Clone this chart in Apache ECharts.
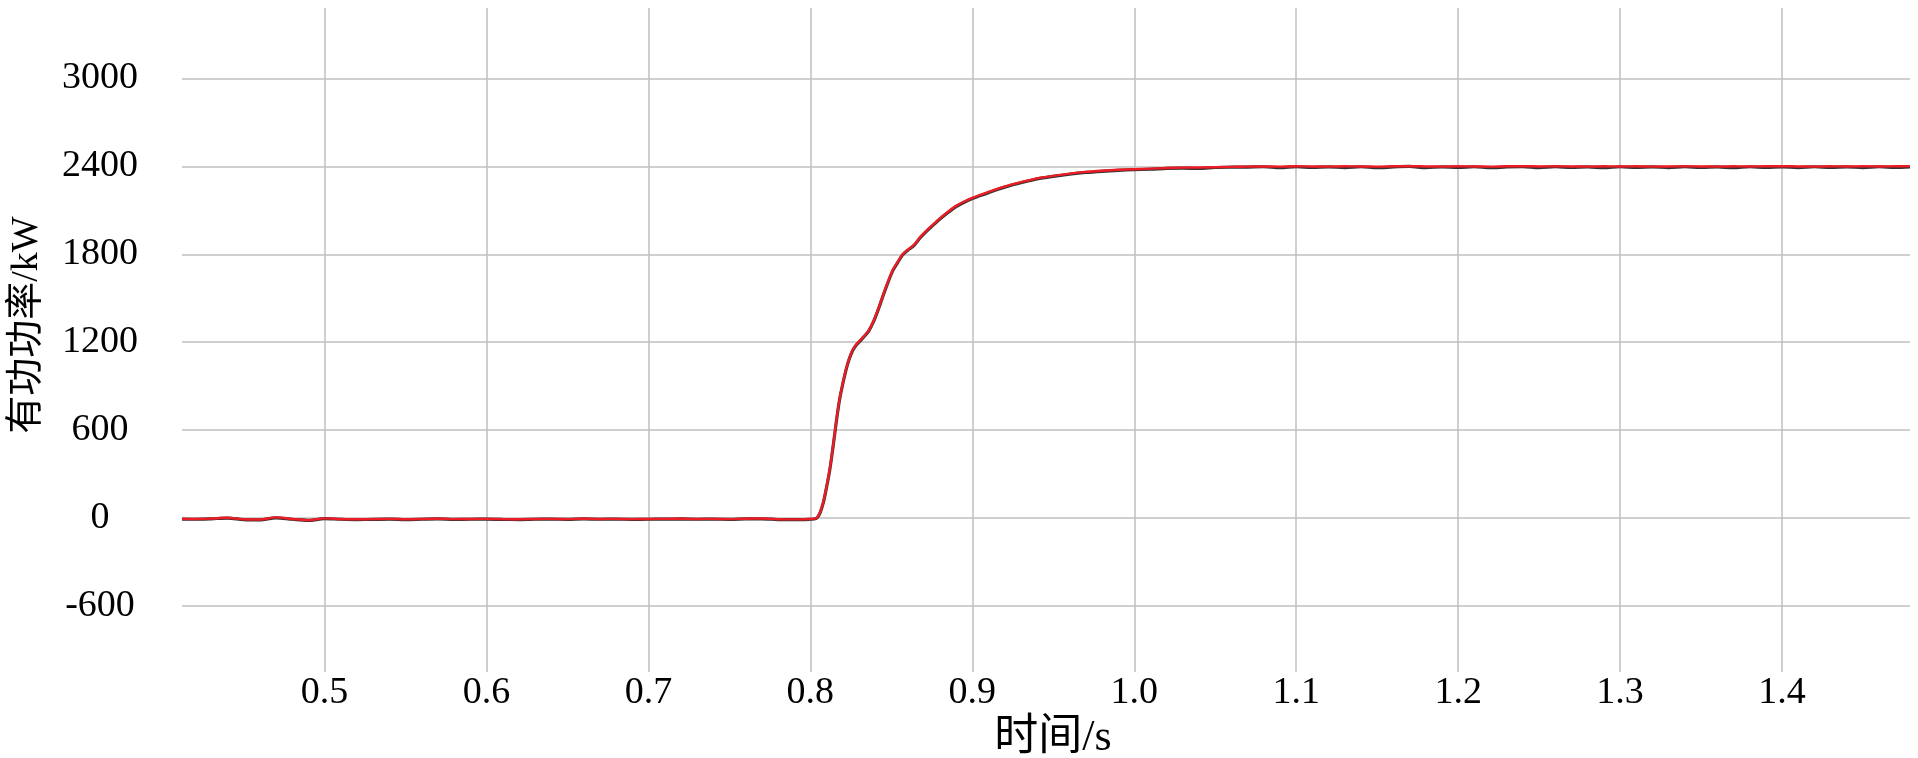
<!DOCTYPE html>
<html>
<head>
<meta charset="utf-8">
<script src="https://cdn.jsdelivr.net/npm/echarts@6/dist/echarts.min.js"></script>
<style>
html,body{margin:0;padding:0;background:#fff;}
#chart{width:1918px;height:758px;}
</style>
</head>
<body>
<div id="chart"></div>
<script>
// time axis (s)
var time = [
  0.412, 0.42, 0.43, 0.44, 0.45, 0.46, 0.47, 0.48, 0.49, 0.50,
  0.51, 0.52, 0.53, 0.54, 0.55, 0.56, 0.57, 0.58, 0.59, 0.60,
  0.61, 0.62, 0.63, 0.64, 0.65, 0.66, 0.67, 0.68, 0.69, 0.70,
  0.71, 0.72, 0.73, 0.74, 0.75, 0.76, 0.77, 0.78, 0.79, 0.80, 0.802,
  0.804, 0.806, 0.808, 0.810, 0.812, 0.814, 0.816, 0.818, 0.820, 0.822, 0.824, 0.826, 0.828, 0.830,
  0.833, 0.836, 0.839, 0.842, 0.845, 0.848, 0.851, 0.854, 0.857, 0.860,
  0.864, 0.868, 0.872, 0.876, 0.880,
  0.885, 0.890, 0.895, 0.900, 0.905, 0.910, 0.915, 0.920, 0.925, 0.930, 0.935, 0.940,
  0.95, 0.96, 0.97, 0.98, 0.99, 1.00,
  1.01, 1.02, 1.03, 1.04, 1.05, 1.06, 1.07, 1.08, 1.09, 1.10,
  1.11, 1.12, 1.13, 1.14, 1.15, 1.16, 1.17, 1.18, 1.19, 1.20,
  1.21, 1.22, 1.23, 1.24, 1.25, 1.26, 1.27, 1.28, 1.29, 1.30,
  1.31, 1.32, 1.33, 1.34, 1.35, 1.36, 1.37, 1.38, 1.39, 1.40,
  1.41, 1.42, 1.43, 1.44, 1.45, 1.46, 1.47, 1.479
];
// red trace (kW)
var powerRed = [
  -5, -6, -3, 2, -8, -10, 5, -6, -14, -2,
  -6, -8, -7, -5, -8, -6, -4, -7, -6, -5,
  -7, -8, -6, -5, -7, -4, -6, -5, -7, -6,
  -5, -4, -6, -5, -7, -4, -3, -8, -9, -6, -4,
  2, 40, 110, 215, 335, 490, 660, 810, 920, 1015, 1090, 1145, 1180, 1205,
  1240, 1280, 1345, 1430, 1525, 1615, 1695, 1750, 1800, 1830,
  1865, 1920, 1965, 2005, 2045,
  2090, 2130, 2160, 2185, 2205, 2225, 2245, 2262, 2278, 2292, 2305, 2318,
  2335, 2350, 2362, 2370, 2376, 2380,
  2384, 2388, 2391, 2392, 2394, 2396, 2398, 2399, 2398, 2400,
  2399, 2398, 2400, 2399, 2398, 2400, 2401, 2399, 2398, 2400,
  2399, 2398, 2400, 2401, 2399, 2400, 2399, 2398, 2400, 2399,
  2400, 2398, 2399, 2400, 2399, 2398, 2400, 2399, 2400, 2401,
  2399, 2398, 2400, 2399, 2400, 2399, 2400, 2401
];
// black trace (kW)
var powerBlack = [
  -7, -8, -5, 0, -10, -12, 2, -8, -16, -4,
  -8, -10, -9, -7, -10, -8, -6, -9, -8, -7,
  -9, -10, -8, -7, -9, -6, -8, -7, -9, -8,
  -7, -6, -8, -7, -9, -6, -5, -10, -11, -8, -6,
  0, 36, 105, 210, 330, 485, 655, 805, 915, 1010, 1085, 1140, 1176, 1200,
  1236, 1276, 1340, 1425, 1520, 1610, 1690, 1745, 1796, 1826,
  1860, 1915, 1960, 2000, 2040,
  2085, 2125, 2155, 2180, 2200, 2220, 2240, 2258, 2274, 2288, 2301, 2314,
  2331, 2346, 2358, 2366, 2372, 2377,
  2380, 2386, 2388, 2385, 2392, 2394, 2395, 2397, 2390, 2398,
  2392, 2396, 2391, 2397, 2390, 2396, 2399, 2391, 2396, 2392,
  2397, 2390, 2396, 2398, 2391, 2397, 2392, 2396, 2390, 2397,
  2393, 2396, 2391, 2397, 2392, 2396, 2390, 2397, 2393, 2396,
  2391, 2397, 2392, 2396, 2391, 2397, 2392, 2396
];
var xTicks = [0.5, 0.6, 0.7, 0.8, 0.9, 1.0, 1.1, 1.2, 1.3, 1.4];
var yTicks = [-600, 0, 600, 1200, 1800, 2400, 3000];

var blackData = time.map(function (t, i) { return [t, powerBlack[i]]; });
var redData = time.map(function (t, i) { return [t, powerRed[i]]; });

var chart = echarts.init(document.getElementById('chart'), null, {renderer: 'canvas'});
var serif = '"Liberation Serif", "Noto Sans CJK SC", serif';
chart.setOption({
  backgroundColor: '#ffffff',
  animation: false,
  grid: {left: 182, right: 8, top: 8, bottom: 86, containLabel: false, outerBoundsMode: 'none'},
  xAxis: {
    type: 'value',
    min: 0.412,
    max: 1.479,
    name: '时间/s',
    nameLocation: 'middle',
    nameGap: 28,
    nameTextStyle: {fontFamily: serif, fontSize: 44, color: '#000', padding: [0, 0, 0, 14]},
    axisLine: {show: false},
    axisTick: {show: false, customValues: xTicks},
    axisLabel: {
      customValues: xTicks,
      fontFamily: serif, fontSize: 38, color: '#000', margin: 2,
      formatter: function (v) { return v.toFixed(1); }
    },
    splitLine: {show: true, lineStyle: {color: '#bfbfbf', width: 1.5}}
  },
  yAxis: {
    type: 'value',
    min: -1050,
    max: 3480,
    name: '有功功率/kW',
    nameLocation: 'middle',
    nameGap: 136,
    nameTextStyle: {fontFamily: serif, fontSize: 38, color: '#000', padding: [0, 0, 0, 30]},
    axisLine: {show: false},
    axisTick: {show: false, customValues: yTicks},
    axisLabel: {
      customValues: yTicks,
      fontFamily: serif, fontSize: 38, color: '#000', align: 'center', margin: 82,
      formatter: function (v) { return String(v); }
    },
    splitLine: {show: true, lineStyle: {color: '#bfbfbf', width: 1.5}}
  },
  series: [
    {
      name: 'black',
      type: 'line',
      data: blackData,
      showSymbol: false,
      smooth: 0.3,
      lineStyle: {color: '#333333', width: 3.2},
      z: 2
    },
    {
      name: 'red',
      type: 'line',
      data: redData,
      showSymbol: false,
      smooth: 0.3,
      lineStyle: {color: '#ee1c24', width: 2.4},
      z: 3
    }
  ]
});
</script>
</body>
</html>
